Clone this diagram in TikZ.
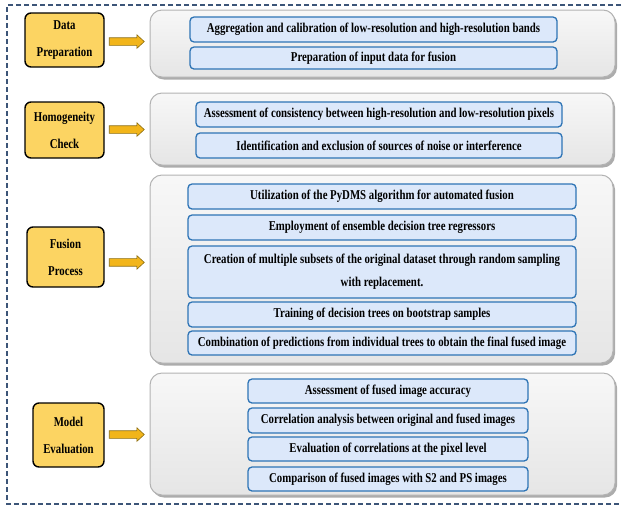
\documentclass[tikz,border=0pt]{standalone}
\usepackage{fontspec}
\setmainfont[FakeStretch=0.80]{Liberation Serif}
\usetikzlibrary{shapes.arrows,shadows,calc}
\definecolor{ybox}{HTML}{FCD462}
\definecolor{bfill}{HTML}{DCE8FA}
\definecolor{bline}{HTML}{2E74B5}
\definecolor{frame}{HTML}{3C5578}
\definecolor{arrfill}{HTML}{F2B51A}
\definecolor{arrline}{HTML}{8B6D10}
\tikzset{
  stagebox/.style={draw=black, line width=1.4pt, fill=ybox, rounded corners=6pt, align=center, inner sep=0pt, outer sep=0pt,
    font=\bfseries\fontsize{13.5}{27}\selectfont},
  panel/.style={draw=gray!60, line width=1pt, top color=gray!6, bottom color=gray!20, rounded corners=12pt, inner sep=0pt, outer sep=0pt,
    drop shadow={shadow xshift=2pt, shadow yshift=-2.5pt, opacity=0.5, fill=gray!70!black}},
  item/.style={draw=bline, line width=1.3pt, fill=bfill, rounded corners=4pt, align=center, inner sep=0pt, outer sep=0pt,
    font=\bfseries\fontsize{13.5}{23}\selectfont},
  flow/.style={single arrow, draw=arrline, fill=arrfill, line width=0.6pt, minimum height=35pt, inner xsep=0pt, inner ysep=3.5pt,
    single arrow head extend=3pt, single arrow tip angle=85, outer sep=0pt, anchor=center},
}
\newcommand\placebox[7]{\node[#2, minimum width={#5-#3}, minimum height={#6-#4}] (#1) at ({(#3+#5)/2},{(#4+#6)/2}) {#7};}
\begin{document}
\begin{tikzpicture}[x=1pt,y=-1pt]
\useasboundingbox (0,0) rectangle (623,507);
\draw[frame, line width=1.3pt, dash pattern=on 5pt off 3pt] (621,5) -- (7,5) -- (7,504) -- (621,504);

% panels
\placebox{p1}{panel}{150}{10}{615}{77}{}
\placebox{p2}{panel}{150}{93}{613}{165}{}
\placebox{p3}{panel}{150}{175}{613}{363}{}
\placebox{p4}{panel}{150}{373}{615}{495}{}

% stage boxes
\placebox{s1}{stagebox}{25}{13}{104}{67}{Data\\Preparation}
\placebox{s2}{stagebox}{25}{102}{104}{158}{Homogeneity\\Check}
\placebox{s3}{stagebox}{27}{227}{104}{287}{Fusion\\Process}
\placebox{s4}{stagebox}{33}{403}{104}{467}{Model\\Evaluation}

% arrows
\node[flow] (a1) at ($(s1.east)!0.45!(p1.west)$ |- 0,43) {};
\node[flow] (a2) at ($(s2.east)!0.45!(p2.west)$ |- 0,130) {};
\node[flow] (a3) at ($(s3.east)!0.45!(p3.west)$ |- 0,259) {};
\node[flow] (a4) at ($(s4.east)!0.45!(p4.west)$ |- 0,438) {};

% items
\placebox{i11}{item}{190}{17}{557}{42}{Aggregation and calibration of low-resolution and high-resolution bands}
\placebox{i12}{item}{190}{47}{557}{69}{Preparation of input data for fusion}

\placebox{i21}{item}{196}{102}{562}{127}{Assessment of consistency between high-resolution and low-resolution pixels}
\placebox{i22}{item}{196}{133}{562}{158}{Identification and exclusion of sources of noise or interference}

\placebox{i31}{item}{188}{184}{576}{209}{Utilization of the PyDMS algorithm for automated fusion}
\placebox{i32}{item}{188}{215}{576}{240}{Employment of ensemble decision tree regressors}
\placebox{i33}{item}{188}{246}{576}{298}{Creation of multiple subsets of the original dataset through random sampling\\with replacement.}
\placebox{i34}{item}{188}{302}{576}{327}{Training of decision trees on bootstrap samples}
\placebox{i35}{item}{188}{331}{576}{355}{Combination of predictions from individual trees to obtain the final fused image}

\placebox{i41}{item}{248}{379}{528}{403}{Assessment of fused image accuracy}
\placebox{i42}{item}{248}{408}{528}{433}{Correlation analysis between original and fused images}
\placebox{i43}{item}{248}{437}{528}{461}{Evaluation of correlations at the pixel level}
\placebox{i44}{item}{248}{467}{528}{491}{Comparison of fused images with S2 and PS images}
\end{tikzpicture}
\end{document}
